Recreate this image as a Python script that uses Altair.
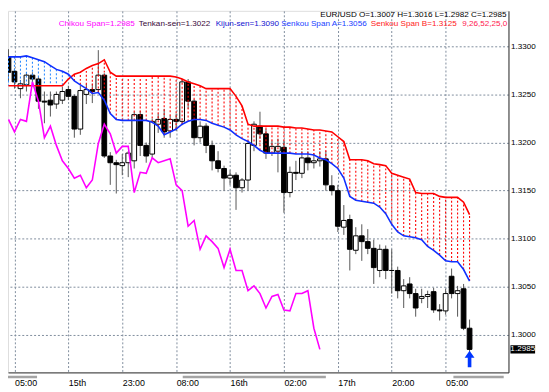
import json
import altair as alt
import pandas as pd

# ---------------- data ----------------
opens = [1.3289, 1.3274, 1.3256, 1.3260, 1.3270, 1.3266, 1.3243, 1.3244, 1.3240, 1.3244,
         1.3255, 1.3248, 1.3214, 1.3250, 1.3255, 1.3255, 1.3270, 1.3186, 1.3179, 1.3176,
         1.3179, 1.3181, 1.3229, 1.3197, 1.3188, 1.3219, 1.3225, 1.3212, 1.3224, 1.3222,
         1.3263, 1.3243, 1.3205, 1.3217, 1.3197, 1.3181, 1.3173, 1.3163, 1.3166, 1.3153,
         1.3161, 1.3197, 1.3217, 1.3209, 1.3189, 1.3191, 1.3195, 1.3148, 1.3169, 1.3168,
         1.3184, 1.3179, 1.3181, 1.3183, 1.3155, 1.3150, 1.3112, 1.3120, 1.3088, 1.3103,
         1.3097, 1.3090, 1.3067, 1.3089, 1.3067, 1.3067, 1.3046, 1.3053, 1.3043, 1.3038,
         1.3040, 1.3045, 1.3026, 1.3025, 1.3061, 1.3043, 1.3048, 1.3007]
highs = [1.3297, 1.3277, 1.3265, 1.3272, 1.3273, 1.3268, 1.3253, 1.3253, 1.3253, 1.3258,
         1.3259, 1.3250, 1.3259, 1.3261, 1.3261, 1.3296, 1.3272, 1.3190, 1.3182, 1.3188,
         1.3191, 1.3232, 1.3233, 1.3200, 1.3225, 1.3230, 1.3235, 1.3228, 1.3230, 1.3266,
         1.3266, 1.3245, 1.3222, 1.3220, 1.3202, 1.3191, 1.3176, 1.3171, 1.3169, 1.3163,
         1.3202, 1.3222, 1.3232, 1.3214, 1.3202, 1.3204, 1.3202, 1.3175, 1.3181, 1.3191,
         1.3191, 1.3189, 1.3191, 1.3191, 1.3166, 1.3156, 1.3135, 1.3125, 1.3112, 1.3115,
         1.3110, 1.3099, 1.3094, 1.3093, 1.3089, 1.3071, 1.3058, 1.3060, 1.3048, 1.3048,
         1.3046, 1.3049, 1.3032, 1.3048, 1.3069, 1.3051, 1.3053, 1.3016]
lows = [1.3263, 1.3256, 1.3246, 1.3253, 1.3262, 1.3235, 1.3220, 1.3227, 1.3235, 1.3240,
        1.3244, 1.3205, 1.3208, 1.3240, 1.3241, 1.3252, 1.3184, 1.3156, 1.3147, 1.3166,
        1.3164, 1.3173, 1.3186, 1.3179, 1.3184, 1.3210, 1.3205, 1.3205, 1.3212, 1.3218,
        1.3235, 1.3197, 1.3200, 1.3189, 1.3171, 1.3169, 1.3150, 1.3156, 1.3130, 1.3148,
        1.3150, 1.3191, 1.3204, 1.3183, 1.3186, 1.3169, 1.3127, 1.3143, 1.3161, 1.3163,
        1.3171, 1.3173, 1.3175, 1.3150, 1.3145, 1.3107, 1.3104, 1.3067, 1.3084, 1.3077,
        1.3084, 1.3053, 1.3060, 1.3058, 1.3043, 1.3038, 1.3028, 1.3038, 1.3019, 1.3033,
        1.3028, 1.3023, 1.3015, 1.3021, 1.3038, 1.3019, 1.3005, 1.2982]
closes = [1.3273, 1.3263, 1.3261, 1.3270, 1.3266, 1.3243, 1.3242, 1.3239, 1.3250, 1.3253,
          1.3248, 1.3214, 1.3254, 1.3255, 1.3253, 1.3270, 1.3186, 1.3179, 1.3177, 1.3179,
          1.3189, 1.3229, 1.3197, 1.3186, 1.3222, 1.3224, 1.3211, 1.3224, 1.3222, 1.3263,
          1.3243, 1.3205, 1.3217, 1.3197, 1.3181, 1.3173, 1.3163, 1.3166, 1.3153, 1.3161,
          1.3199, 1.3219, 1.3209, 1.3189, 1.3196, 1.3196, 1.3148, 1.3169, 1.3168, 1.3184,
          1.3179, 1.3181, 1.3183, 1.3156, 1.3150, 1.3113, 1.3119, 1.3089, 1.3103, 1.3097,
          1.3090, 1.3070, 1.3089, 1.3067, 1.3067, 1.3046, 1.3051, 1.3043, 1.3028, 1.3040,
          1.3042, 1.3026, 1.3025, 1.3043, 1.3043, 1.3046, 1.3007, 1.2985]

senkou_a = [1.3289, 1.3289, 1.3289, 1.3290, 1.3288, 1.3286, 1.3284, 1.3280, 1.3276, 1.3274,
            1.3271, 1.3264, 1.3260, 1.3256, 1.3251, 1.3252, 1.3244, 1.3230, 1.3224, 1.3223,
            1.3223, 1.3223, 1.3223, 1.3223, 1.3221, 1.3217, 1.3208, 1.3211, 1.3214, 1.3219,
            1.3222, 1.3224, 1.3224, 1.3223, 1.3220, 1.3218, 1.3216, 1.3213, 1.3208, 1.3204,
            1.3201, 1.3197, 1.3192, 1.3189, 1.3189, 1.3189, 1.3189, 1.3189, 1.3188, 1.3188,
            1.3188, 1.3187, 1.3184, 1.3182, 1.3178, 1.3173, 1.3163, 1.3144, 1.3140, 1.3139,
            1.3138, 1.3137, 1.3133, 1.3126, 1.3115, 1.3107, 1.3103, 1.3102, 1.3101, 1.3099,
            1.3092, 1.3088, 1.3083, 1.3077, 1.3076, 1.3076, 1.3068, 1.3056]
senkou_b = [1.3259, 1.3259, 1.3259, 1.3259, 1.3259, 1.3259, 1.3259, 1.3259, 1.3259, 1.3259,
            1.3266, 1.3271, 1.3273, 1.3277, 1.3280, 1.3282, 1.3286, 1.3273, 1.3269, 1.3269,
            1.3269, 1.3269, 1.3269, 1.3269, 1.3269, 1.3269, 1.3269, 1.3269, 1.3268, 1.3266,
            1.3263, 1.3261, 1.3259, 1.3256, 1.3256, 1.3256, 1.3256, 1.3256, 1.3248, 1.3238,
            1.3219, 1.3217, 1.3217, 1.3217, 1.3217, 1.3217, 1.3216, 1.3216, 1.3215, 1.3215,
            1.3214, 1.3213, 1.3213, 1.3212, 1.3211, 1.3206, 1.3201, 1.3182, 1.3182, 1.3182,
            1.3181, 1.3178, 1.3177, 1.3176, 1.3168, 1.3166, 1.3164, 1.3162, 1.3148, 1.3147,
            1.3147, 1.3147, 1.3144, 1.3143, 1.3143, 1.3143, 1.3138, 1.3125]

chikou = [1.3224, 1.3211, 1.3224, 1.3222, 1.3263,
          1.3243, 1.3205, 1.3217, 1.3197, 1.3181, 1.3173, 1.3163, 1.3166, 1.3153, 1.3161,
          1.3199, 1.3219, 1.3209, 1.3189, 1.3196, 1.3196, 1.3148, 1.3169, 1.3168, 1.3184,
          1.3179, 1.3181, 1.3183, 1.3156, 1.3150, 1.3113, 1.3119, 1.3089, 1.3103, 1.3097,
          1.3090, 1.3070, 1.3089, 1.3067, 1.3067, 1.3046, 1.3051, 1.3043, 1.3028, 1.3040,
          1.3042, 1.3026, 1.3025, 1.3043, 1.3043, 1.3046, 1.3007, 1.2985]

grid_bars = [1, 10, 19, 28, 37, 46, 55, 64, 73]
time_labels = ["05:00", "15th", "23:00", "08:00", "16th", "02:00", "17th", "20:00", "05:00"]
price_ticks = [1.3000, 1.3050, 1.3100, 1.3150, 1.3200, 1.3250, 1.3300]

header_quote = "EUR/USD O=1.3007 H=1.3016 L=1.2982 C=1.2985"
legend_texts = ["Chikou Span=1.2985", "Tenkan-sen=1.3022", "Kijun-sen=1.3090",
                "Senkou Span A=1.3056", "Senkou Span B=1.3125", "9,26,52,25,0"]

separator_start = [-0.55, 29.1, 74.3]
separator_end = [4.77, 53.0, 82.7]

arrow_bar = [77]
arrow_price = [1.2975]

# ---------------- layout / style ----------------
FONT = "Liberation Sans"
PLOT_W, PLOT_H = 508, 367
xs = alt.Scale(domain=[0.742, 82.677], nice=False, zero=False)
ys = alt.Scale(domain=[1.296106, 1.333686], nice=False, zero=False)
GRID = "#7f8c9c"

label_expr = f"{json.dumps(time_labels)}[indexof({json.dumps(grid_bars)}, datum.value)]"
x_axis = alt.Axis(values=grid_bars, labelExpr=label_expr, grid=True, gridColor=GRID,
                  gridDash=[2, 2], gridWidth=1, ticks=False, tickSize=0, domain=True,
                  domainColor="#303030", domainWidth=1, labelAlign="left",
                  labelBaseline="top", labelPadding=6, labelFont=FONT, labelFontSize=9,
                  labelColor="#000000", labelFlush=False, labelOverlap=False, title=None)
y_axis = alt.Axis(orient="right", values=price_ticks, format=".4f", grid=True,
                  gridColor=GRID, gridDash=[2, 2], gridWidth=1, ticks=False, tickSize=0,
                  domain=True, domainColor="#303030", domainWidth=1, labelPadding=2,
                  labelFont=FONT, labelFontSize=8.25, labelColor="#000000",
                  labelFlush=False, labelOverlap=False, title=None)


def X(field):
    return alt.X(field, scale=xs, axis=x_axis, title=None)


def Y(field):
    return alt.Y(field, scale=ys, axis=y_axis, title=None)


n = len(opens)
candles = pd.DataFrame({"bar": list(range(n)), "open": opens, "high": highs,
                        "low": lows, "close": closes})
candles["fill"] = ["#000000" if c < o else "#ffffff" for o, c in zip(opens, closes)]

cloud = pd.DataFrame({"bar": list(range(n)), "a": senkou_a, "b": senkou_b})
cloud["hatch"] = ["#ff0000" if b >= a else "#2e8cff" for a, b in zip(senkou_a, senkou_b)]

chik = pd.DataFrame({"bar": list(range(len(chikou))), "v": chikou})

wicks = alt.Chart(candles).mark_rule(color="#555555", strokeWidth=1, clip=True).encode(
    x=X("bar:Q"), y=Y("low:Q"), y2="high:Q",
)
bodies = alt.Chart(candles).mark_bar(size=4.8, stroke="#000000", strokeWidth=1, clip=True).encode(
    x=X("bar:Q"), y=Y("open:Q"), y2="close:Q",
    fill=alt.Fill("fill:N", scale=None),
)
hatch = alt.Chart(cloud).mark_rule(strokeDash=[2, 2], strokeWidth=1.1, clip=True).encode(
    x=X("bar:Q"), y=Y("a:Q"), y2="b:Q",
    color=alt.Color("hatch:N", scale=None),
)
line_b = alt.Chart(cloud).mark_line(color="#ff0000", strokeWidth=1.6, clip=True).encode(
    x=X("bar:Q"), y=Y("b:Q"),
)
line_a = alt.Chart(cloud).mark_line(color="#1030ff", strokeWidth=1.6, clip=True).encode(
    x=X("bar:Q"), y=Y("a:Q"),
)
chik_line = alt.Chart(chik).mark_line(color="#ff00ff", strokeWidth=1.6, clip=True).encode(
    x=X("bar:Q"), y=Y("v:Q"),
)

arrow_df = pd.DataFrame({"bar": arrow_bar, "p": arrow_price})
arrow = alt.Chart(arrow_df).mark_point(
    shape="M0,-1L0.6,-0.15L0.22,-0.15L0.22,1L-0.22,1L-0.22,-0.15L-0.6,-0.15Z",
    filled=True, size=280, color="#0036ff", opacity=1, strokeWidth=0,
).encode(x=X("bar:Q"), y=Y("p:Q"))

sep_df = pd.DataFrame({"s": separator_start, "e": separator_end})
seps = alt.Chart(sep_df).mark_rect(color="#a4a4a4").encode(
    x=X("s:Q"), x2="e:Q",
    y=alt.value(370.5), y2=alt.value(373),
)

last_df = pd.DataFrame({"p": [closes[-1]]})
price_box = alt.Chart(last_df).transform_calculate(
    top="datum.p + 0.00043", bot="datum.p - 0.00043"
).mark_rect(color="#000000").encode(
    x=alt.value(510), x2=alt.value(535),
    y=Y("top:Q"), y2="bot:Q",
)
price_text = alt.Chart(last_df).mark_text(
    color="#ffffff", font=FONT, fontSize=8.25, align="center", baseline="middle"
).encode(
    x=alt.value(522.5), y=Y("p:Q"),
    text=alt.Text("p:Q", format=".4f"),
)

header1 = alt.Chart(pd.DataFrame({"t": [header_quote]})).mark_text(
    color="#000000", font=FONT, fontSize=8.25, align="right", baseline="middle"
).encode(x=alt.value(506), y=alt.value(4), text="t:N")

legend_colors = ["#ff00ff", "#3a0a3a", "#1010d0", "#2040ff", "#ff2020", "#ff2050"]
legend_x = [51.5, 132.7, 210.8, 277.3, 368.3, 461.0]
legend_layers = []
for txt, col, xp in zip(legend_texts, legend_colors, legend_x):
    legend_layers.append(
        alt.Chart(pd.DataFrame({"t": [txt]})).mark_text(
            color=col, font=FONT, fontSize=8.25, align="left", baseline="middle"
        ).encode(x=alt.value(xp), y=alt.value(13), text="t:N")
    )

chart = alt.layer(
    wicks, bodies, hatch, line_b, line_a, chik_line, arrow, seps,
    price_box, price_text, header1, *legend_layers
).properties(
    width=PLOT_W, height=PLOT_H,
    padding={"left": 0, "top": 0, "right": 33, "bottom": 17},
    autosize=alt.AutoSizeParams(type="none"),
).configure_view(stroke=None).configure(background="white")

chart.save("out.html", embed_options={"renderer": "svg", "actions": False})
